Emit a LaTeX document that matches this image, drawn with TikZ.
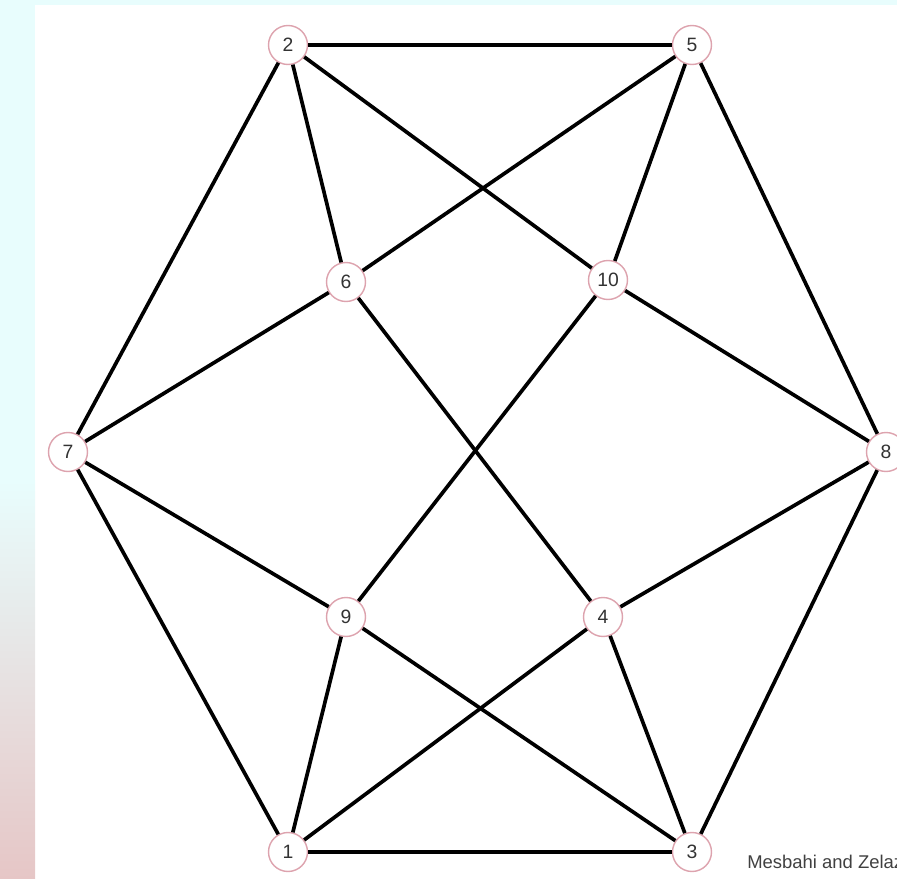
\documentclass[tikz,border=0pt]{standalone}
\usepackage{fontspec}
\setmainfont{Liberation Sans}
\usepackage{tikz}
\usetikzlibrary{positioning}
\definecolor{ring}{HTML}{DDA3AE}
\definecolor{skytop}{HTML}{E8FDFD}
\definecolor{rosebot}{HTML}{E6C6C6}

\begin{document}
\begin{tikzpicture}[x=0.02cm,y=-0.02cm,font=\fontsize{11}{13}\selectfont,
  vx/.style={circle,draw=ring,line width=0.8pt,fill=white,text=black!80,minimum size=0.78cm,inner sep=0pt},
  ed/.style={line width=2.1pt,black}]
\useasboundingbox (0,0) rectangle (897,879);
\fill[skytop] (0,0) rectangle (897,5);
\fill[skytop] (0,0) rectangle (35,480);
\shade[top color=skytop,bottom color=rosebot] (0,480) rectangle (35,879);
\node[vx] (n2) at (288,45) {2};
\node[vx] (n5) at (692,45) {5};
\node[vx] (n6) at (346,282) {6};
\node[vx] (n10) at (608,280) {10};
\node[vx] (n7) at (68,452) {7};
\node[vx] (n8) at (886,452) {8};
\node[vx] (n9) at (346,617) {9};
\node[vx] (n4) at (603,617) {4};
\node[vx] (n1) at (288,852) {1};
\node[vx] (n3) at (692,852) {3};
\draw[ed](n2)--(n5);\draw[ed](n2)--(n7);\draw[ed](n2)--(n6);\draw[ed](n2)--(n10);
\draw[ed](n5)--(n6);\draw[ed](n5)--(n10);\draw[ed](n5)--(n8);
\draw[ed](n6)--(n7);\draw[ed](n6)--(n4);\draw[ed](n10)--(n9);\draw[ed](n10)--(n8);
\draw[ed](n7)--(n9);\draw[ed](n7)--(n1);\draw[ed](n8)--(n4);\draw[ed](n8)--(n3);
\draw[ed](n9)--(n1);\draw[ed](n9)--(n3);\draw[ed](n4)--(n1);\draw[ed](n4)--(n3);
\draw[ed](n1)--(n3);
\node[anchor=west,font=\fontsize{10.5}{12}\selectfont,text=black!75,inner sep=0pt] (credit) at (747,862) {Mesbahi and Zelazo};
\end{tikzpicture}
\end{document}
